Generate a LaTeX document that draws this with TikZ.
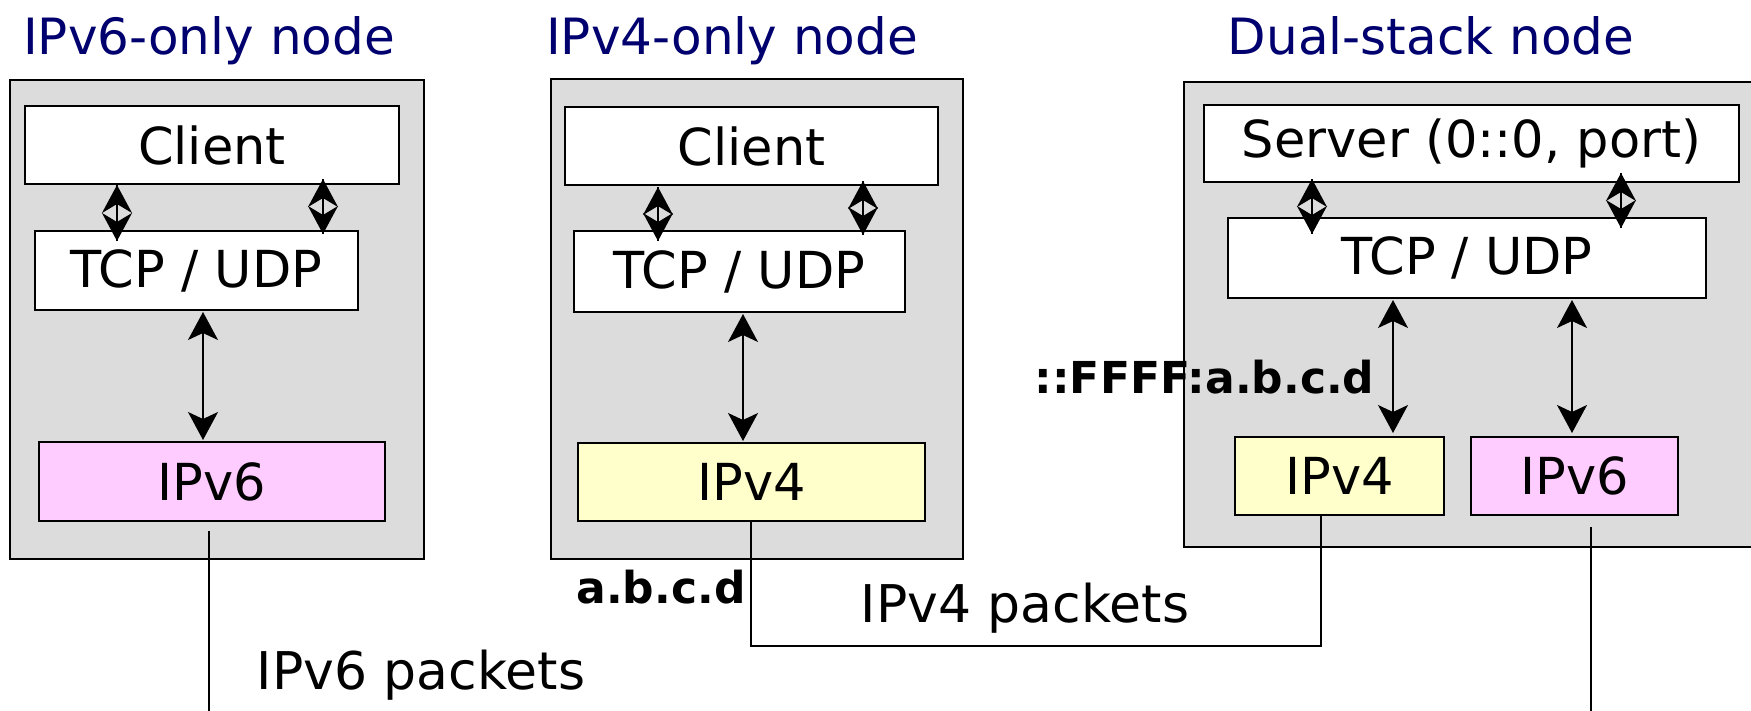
\documentclass[tikz,border=0pt]{standalone}
\usepackage{fontspec}
\setmainfont{DejaVu Sans}
\usetikzlibrary{arrows.meta}
\definecolor{navytitle}{RGB}{0,0,110}
\definecolor{stackgray}{RGB}{220,220,220}
\definecolor{vsixpink}{RGB}{255,204,255}
\definecolor{vfouryellow}{RGB}{255,255,204}
\tikzset{
  bigtip/.tip={Stealth[length=28pt,width=30pt,inset=7pt]},
  smalltip/.tip={Stealth[length=28pt,width=30pt,inset=9pt]},
}
\begin{document}
\begin{tikzpicture}[x=1pt,y=1pt,
  title/.style={text=navytitle, font=\fontsize{50}{58}\selectfont, anchor=base},
  hostbox/.style={draw, line width=2pt, fill=stackgray, inner sep=0pt},
  layer/.style={draw, line width=2pt, fill=white, inner sep=0pt,
                font=\fontsize{51}{58}\selectfont},
  vsix/.style={layer, fill=vsixpink},
  vfour/.style={layer, fill=vfouryellow},
  updown/.style={line width=1.5pt, bigtip-bigtip},
  stackarrow/.style={line width=1.5pt, smalltip-smalltip},
  shaft/.style={line width=1.5pt},
  wire/.style={line width=1.5pt},
  plabel/.style={font=\fontsize{52}{58}\selectfont, anchor=base},
  addr/.style={font=\bfseries\fontsize{44}{50}\selectfont, anchor=base},
]
\clip (0,0) rectangle (1751,-710);
\useasboundingbox (0,0) rectangle (1751,-710);

% ---- IPv6-only host ----
\node[title] (t1) at (209,-54) {IPv6-only node};
\node[hostbox, minimum width=414, minimum height=479] (host1) at (217,-319.5) {};
\node[layer, minimum width=374, minimum height=78] (client1) at (212,-145) {Client};
\node[layer, minimum width=323, minimum height=79] (tcp1) at (196.5,-270.5) {TCP / UDP};
\node[vsix, minimum width=346, minimum height=79] (ipsix1) at (212,-481.5) {IPv6};

% ---- IPv4-only host ----
\node[title] (t2) at (732,-54) {IPv4-only node};
\node[hostbox, minimum width=412, minimum height=480] (host2) at (757,-319) {};
\node[layer, minimum width=373, minimum height=78] (client2) at (751.5,-146) {Client};
\node[layer, minimum width=331, minimum height=81] (tcp2) at (739.5,-271.5) {TCP / UDP};
\node[vfour, minimum width=347, minimum height=78] (ipfour2) at (751.5,-482) {IPv4};

% ---- Dual-stack host ----
\node[title] (t3) at (1431,-54) {Dual-stack node};
\node[hostbox, minimum width=586, minimum height=465] (host3) at (1477,-314.5) {};
\node[layer, minimum width=535, minimum height=77] (server3) at (1471.5,-143.5) {Server (0::0, port)};
\node[layer, minimum width=478, minimum height=80] (tcp3) at (1467,-258) {TCP / UDP};
\node[vfour, minimum width=209, minimum height=78] (ipfour3) at (1339.5,-476) {IPv4};
\node[vsix, minimum width=207, minimum height=78] (ipsix3) at (1574.5,-476) {IPv6};

% ---- application <-> transport ----
\foreach \up/\dx/\dy/\lo/\ex/\ey in {
  client1/-95/0/tcp1/-79.5/-11,
  client1/111/6/tcp1/126.5/-4,
  client2/-93.5/-1/tcp2/-81.5/-11,
  client2/111.5/5/tcp2/123.5/-5,
  server3/-159.5/4/tcp3/-155/-17,
  server3/149.5/10/tcp3/154/-11}{
  \draw[stackarrow] ([xshift=\dx pt,yshift=\dy pt]\up.south) -- ([xshift=\ex pt,yshift=\ey pt]\lo.north);
  \draw[shaft] ([xshift=\dx pt,yshift=\dy pt]\up.south) -- ([xshift=\ex pt,yshift=\ey pt]\lo.north);
}

% ---- transport <-> network ----
\draw[updown] ([xshift=6.5pt,yshift=-1pt]tcp1.south) -- ([xshift=-9pt,yshift=1pt]ipsix1.north);
\draw[updown] ([xshift=3.5pt,yshift=-1pt]tcp2.south) -- ([xshift=-8.5pt,yshift=1pt]ipfour2.north);
\draw[updown] ([xshift=-74pt,yshift=-1pt]tcp3.south) -- ([xshift=53.5pt,yshift=3pt]ipfour3.north);
\draw[updown] ([xshift=105pt,yshift=-1pt]tcp3.south) -- ([xshift=-2.5pt,yshift=3pt]ipsix3.north);

% ---- links ----
\coordinate (sixend1) at (209,-715);
\coordinate (sixend3) at (1591,-715);
\draw[wire] ([xshift=-3pt,yshift=-9pt]ipsix1.south) -- (sixend1);
\draw[wire] ([xshift=-0.5pt]ipfour2.south) -- ++(0,-124) -| ([xshift=-18.5pt]ipfour3.south);
\draw[wire] ([xshift=16.5pt,yshift=-11pt]ipsix3.south) -- (sixend3);

% ---- labels ----
\node[addr] (v4addr) at (661,-603) {a.b.c.d};
\node[addr] (mapped) at (1204.5,-393) {::FFFF:a.b.c.d};
\node[plabel] (v4pk) at (1025,-622) {IPv4 packets};
\node[plabel] (v6pk) at (421,-689) {IPv6 packets};
\end{tikzpicture}
\end{document}
